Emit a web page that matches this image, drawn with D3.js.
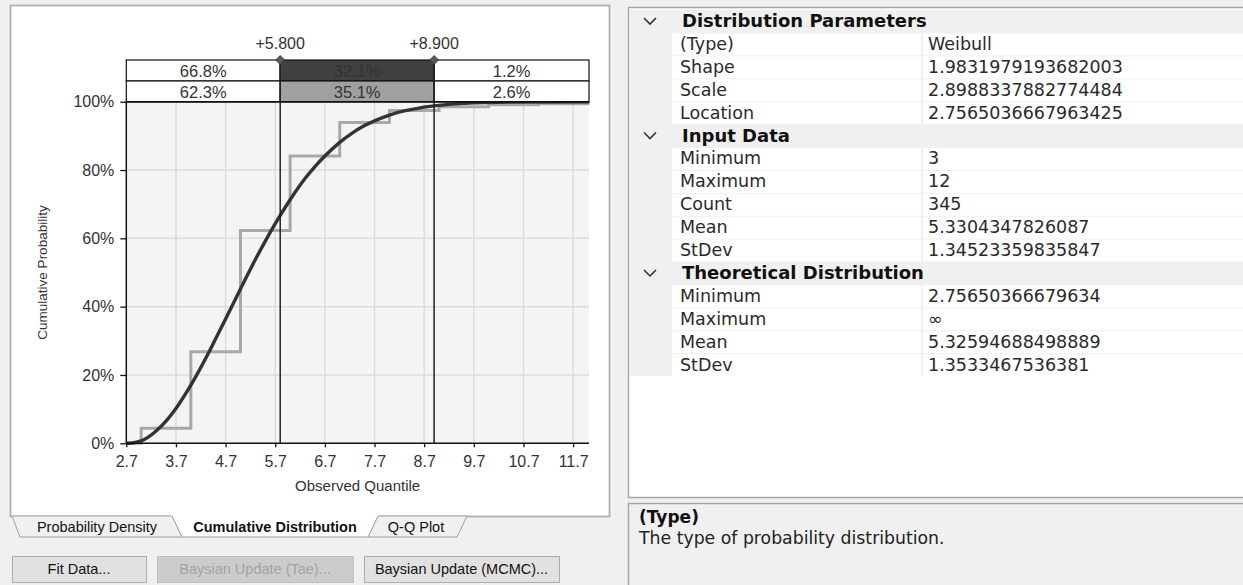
<!DOCTYPE html>
<html><head><meta charset="utf-8">
<script src="https://cdn.jsdelivr.net/npm/d3@7"></script>
<style>body{margin:0;background:#f0f0f0;} svg{display:block}</style>
</head><body>
<svg id="c" width="1243" height="585"></svg>
<script>
// ---------- data ----------
const xTicks = [2.7, 3.7, 4.7, 5.7, 6.7, 7.7, 8.7, 9.7, 10.7, 11.7];
const yTicks = [0, 0.2, 0.4, 0.6, 0.8, 1.0];
const xDomain = [2.7, 12.02];
const markers = [5.8, 8.9];
const markerLabels = ["+5.800", "+8.900"];
const theoreticalPct = ["66.8%", "32.1%", "1.2%"];
const empiricalPct = ["62.3%", "35.1%", "2.6%"];
// empirical cumulative distribution (step)
const empX = [2.7, 3, 4, 5, 6, 7, 8, 9, 10, 11, 12, 12.02];
const empP = [0, 0.044, 0.268, 0.623, 0.841, 0.939, 0.974, 0.985, 0.991, 0.994, 1.0, 1.0];
// fitted Weibull CDF
const fitX = [2.70, 2.76, 2.90, 3.00, 3.15, 3.30, 3.50, 3.70, 4.00, 4.30, 4.50, 4.70, 5.00, 5.30, 5.50, 5.70, 6.00, 6.30, 6.50, 6.70, 7.00, 7.25, 7.50, 8.00, 8.70, 9.50, 10.50, 12.02];
const fitP = [0, 0, 0.003, 0.007, 0.019, 0.036, 0.065, 0.102, 0.170, 0.249, 0.306, 0.364, 0.452, 0.538, 0.592, 0.643, 0.713, 0.775, 0.810, 0.841, 0.881, 0.908, 0.930, 0.961, 0.984, 0.995, 0.999, 1.0];
// tabs and buttons
const tabLabels = ["Probability Density", "Cumulative Distribution", "Q-Q Plot"];
const buttonLabels = ["Fit Data...", "Baysian Update (Tae)...", "Baysian Update (MCMC)..."];
// property grid
const sectionNames = ["Distribution Parameters", "Input Data", "Theoretical Distribution"];
const distParamNames = ["(Type)", "Shape", "Scale", "Location"];
const distParamValues = ["Weibull", "1.9831979193682003", "2.8988337882774484", "2.7565036667963425"];
const inputNames = ["Minimum", "Maximum", "Count", "Mean", "StDev"];
const inputValues = ["3", "12", "345", "5.3304347826087", "1.34523359835847"];
const theoNames = ["Minimum", "Maximum", "Mean", "StDev"];
const theoValues = ["2.75650366679634", "\u221E", "5.32594688498889", "1.3533467536381"];
const descTitle = "(Type)";
const descText = "The type of probability distribution.";

// ---------- drawing ----------
const svg = d3.select("#c");
const LS = "'Liberation Sans', Arial, sans-serif";
const DJ = "'DejaVu Sans', sans-serif";

// left panel
svg.append("rect").attr("x", 10.5).attr("y", 5.5).attr("width", 599).attr("height", 511)
  .attr("fill", "#fff").attr("stroke", "#b0b0b0").attr("stroke-width", 1.8);

const x = d3.scaleLinear().domain(xDomain).range([126.3, 589]);
const y = d3.scaleLinear().domain([0, 1]).range([443.3, 101.7]);
const g = svg.append("g");

// plot background
g.append("rect").attr("x", x(xDomain[0])).attr("y", y(1))
  .attr("width", x(xDomain[1]) - x(xDomain[0])).attr("height", y(0) - y(1))
  .attr("fill", "#f4f4f4");

// grid
g.selectAll(".vg").data(xTicks.slice(1)).join("line")
  .attr("x1", d => x(d)).attr("x2", d => x(d)).attr("y1", y(1)).attr("y2", y(0))
  .attr("stroke", "#dcdcdc").attr("stroke-width", 1.5);
g.selectAll(".hg").data(yTicks.slice(1, -1)).join("line")
  .attr("x1", x(xDomain[0])).attr("x2", x(xDomain[1])).attr("y1", d => y(d)).attr("y2", d => y(d))
  .attr("stroke", "#dcdcdc").attr("stroke-width", 1.5);

// empirical step
const empPts = empX.map((v, i) => [v, empP[i]]);
g.append("path").datum(empPts)
  .attr("d", d3.line().x(d => x(d[0])).y(d => y(d[1])).curve(d3.curveStepAfter))
  .attr("fill", "none").attr("stroke", "#a8a8a8").attr("stroke-width", 3);

// fitted curve
const fitPts = fitX.map((v, i) => [v, fitP[i]]);
g.append("path").datum(fitPts)
  .attr("d", d3.line().x(d => x(d[0])).y(d => y(d[1])).curve(d3.curveMonotoneX))
  .attr("fill", "none").attr("stroke", "#333").attr("stroke-width", 3.4);

// top boxes
const bounds = [xDomain[0], markers[0], markers[1], xDomain[1]];
const rowTop = [60, 81];
const rowFills = [["#fff", "#404040", "#fff"], ["#fff", "#a0a0a0", "#fff"]];
[theoreticalPct, empiricalPct].forEach((vals, r) => {
  vals.forEach((v, i) => {
    g.append("rect").attr("x", x(bounds[i])).attr("y", rowTop[r])
      .attr("width", x(bounds[i + 1]) - x(bounds[i])).attr("height", 21)
      .attr("fill", rowFills[r][i]).attr("stroke", "#111").attr("stroke-width", 1.2);
    g.append("text").attr("x", (x(bounds[i]) + x(bounds[i + 1])) / 2).attr("y", rowTop[r] + 16.5)
      .attr("text-anchor", "middle").attr("font-family", LS).attr("font-size", 16.5)
      .attr("fill", "#333").text(v);
  });
});

// axes
const ax = g.append("g").attr("transform", `translate(0,${y(0)})`)
  .call(d3.axisBottom(x).tickValues(xTicks).tickSize(4).tickPadding(8).tickFormat(d3.format(".1f")));
const ay = g.append("g").attr("transform", `translate(${x(xDomain[0])},0)`)
  .call(d3.axisLeft(y).tickValues(yTicks).tickSize(6).tickPadding(6).tickFormat(d3.format(".0%")));
[ax, ay].forEach(a => {
  a.select(".domain").attr("stroke", "#111").attr("stroke-width", 1.5);
  a.selectAll(".tick line").attr("stroke", "#111").attr("stroke-width", 1.3);
  a.selectAll(".tick text").attr("font-family", LS).attr("font-size", 16).attr("fill", "#333");
});
ax.select(".domain").attr("d", `M${x(xDomain[0])},0H${x(xDomain[1])}`);
ay.select(".domain").attr("d", `M0,${y(0)}V${y(1)}`);

// 100% line
g.append("line").attr("x1", x(xDomain[0])).attr("x2", x(xDomain[1])).attr("y1", y(1)).attr("y2", y(1))
  .attr("stroke", "#111").attr("stroke-width", 1.5);

// markers
markers.forEach((m, i) => {
  g.append("line").attr("x1", x(m)).attr("x2", x(m)).attr("y1", 60).attr("y2", y(0))
    .attr("stroke", "#222").attr("stroke-width", 1.5);
  g.append("path").attr("d", d3.symbol(d3.symbolSquare, 40)())
    .attr("transform", `translate(${x(m)},60) rotate(45)`)
    .attr("fill", "#5a5a5a").attr("stroke", "#333").attr("stroke-width", 0.8);
  g.append("text").attr("x", x(m)).attr("y", 49).attr("text-anchor", "middle")
    .attr("font-family", LS).attr("font-size", 16).attr("fill", "#333").text(markerLabels[i]);
});

// axis titles
g.append("text").attr("x", (x(xDomain[0]) + x(xDomain[1])) / 2).attr("y", 491)
  .attr("text-anchor", "middle").attr("font-family", LS).attr("font-size", 15).attr("fill", "#333")
  .text("Observed Quantile");
g.append("text").attr("transform", `translate(47,${(y(0) + y(1)) / 2}) rotate(-90)`)
  .attr("text-anchor", "middle").attr("font-family", LS).attr("font-size", 13.5).attr("fill", "#333")
  .text("Cumulative Probability");

// tabs
const tabPolys = [
  [[12, 516], [20, 537], [182, 537], [172, 516]],
  [[368, 537], [378, 516], [467, 516], [457, 537]],
];
tabPolys.forEach(p => {
  svg.append("polygon").attr("points", p.map(q => q.join(",")).join(" "))
    .attr("fill", "#f0f0f0").attr("stroke", "#a0a0a0").attr("stroke-width", 1);
});
svg.append("polygon").attr("points", "171,515 182,537 368,537 379,515").attr("fill", "#fff");
svg.append("polyline").attr("points", "172,516 182,537 368,537 378,516")
  .attr("fill", "none").attr("stroke", "#a0a0a0").attr("stroke-width", 1);
const tabCx = [97, 275, 416];
tabLabels.forEach((t, i) => {
  svg.append("text").attr("x", tabCx[i]).attr("y", 532).attr("text-anchor", "middle")
    .attr("font-family", LS).attr("font-size", 14.5).attr("font-weight", i === 1 ? "bold" : "normal")
    .attr("fill", "#111").text(t);
});

// buttons
const btnX = [[12, 146], [157, 353], [364, 559]];
buttonLabels.forEach((b, i) => {
  const dis = i === 1;
  svg.append("rect").attr("x", btnX[i][0] + 0.5).attr("y", 556.5)
    .attr("width", btnX[i][1] - btnX[i][0]).attr("height", 26)
    .attr("fill", dis ? "#cccccc" : "#e1e1e1").attr("stroke", dis ? "#bfbfbf" : "#adadad");
  svg.append("text").attr("x", (btnX[i][0] + btnX[i][1]) / 2).attr("y", 574)
    .attr("text-anchor", "middle").attr("font-family", LS).attr("font-size", 14.5)
    .attr("fill", dis ? "#a2a2a2" : "#111").text(b);
});

// property grid panel
svg.append("rect").attr("x", 628.5).attr("y", 7.5).attr("width", 620).attr("height", 490)
  .attr("fill", "#fff").attr("stroke", "#a8a8a8").attr("stroke-width", 1.5);
const rowH = 22.9, top0 = 9.6;
const rows = [];
[[distParamNames, distParamValues], [inputNames, inputValues], [theoNames, theoValues]].forEach((s, si) => {
  rows.push({ header: sectionNames[si] });
  s[0].forEach((n, i) => rows.push({ name: n, value: s[1][i] }));
});
const pg = svg.append("g");
pg.append("rect").attr("x", 630).attr("y", top0).attr("width", 613).attr("height", rows.length * rowH)
  .attr("fill", "#f0f0f0");
rows.forEach((r, i) => {
  const ty = top0 + i * rowH;
  const cy = ty + rowH / 2;
  if (r.header) {
    pg.append("polyline").attr("points", `${644},${cy - 3} ${650},${cy + 3} ${656},${cy - 3}`)
      .attr("fill", "none").attr("stroke", "#333").attr("stroke-width", 1.6);
    pg.append("text").attr("x", 682).attr("y", cy + 6).attr("font-family", DJ)
      .attr("font-size", 18).attr("font-weight", "bold").attr("fill", "#111").text(r.header);
  } else {
    pg.append("rect").attr("x", 672).attr("y", ty + 1).attr("width", 249).attr("height", rowH - 1).attr("fill", "#fff");
    pg.append("rect").attr("x", 923).attr("y", ty + 1).attr("width", 320).attr("height", rowH - 1).attr("fill", "#fff");
    pg.append("text").attr("x", 680).attr("y", cy + 6).attr("font-family", DJ)
      .attr("font-size", 17.5).attr("fill", "#2a2a2a").text(r.name);
    pg.append("text").attr("x", 928).attr("y", cy + 6).attr("font-family", DJ)
      .attr("font-size", 17.5).attr("fill", "#2a2a2a").text(r.value);
  }
});

// description panel
svg.append("rect").attr("x", 628.5).attr("y", 503.5).attr("width", 620).attr("height", 90)
  .attr("fill", "#f0f0f0").attr("stroke", "#a8a8a8").attr("stroke-width", 1.5);
svg.append("text").attr("x", 639).attr("y", 523).attr("font-family", DJ).attr("font-size", 17)
  .attr("font-weight", "bold").attr("fill", "#111").text(descTitle);
svg.append("text").attr("x", 639).attr("y", 544).attr("font-family", DJ).attr("font-size", 17.3)
  .attr("fill", "#222").text(descText);
</script>
</body></html>
